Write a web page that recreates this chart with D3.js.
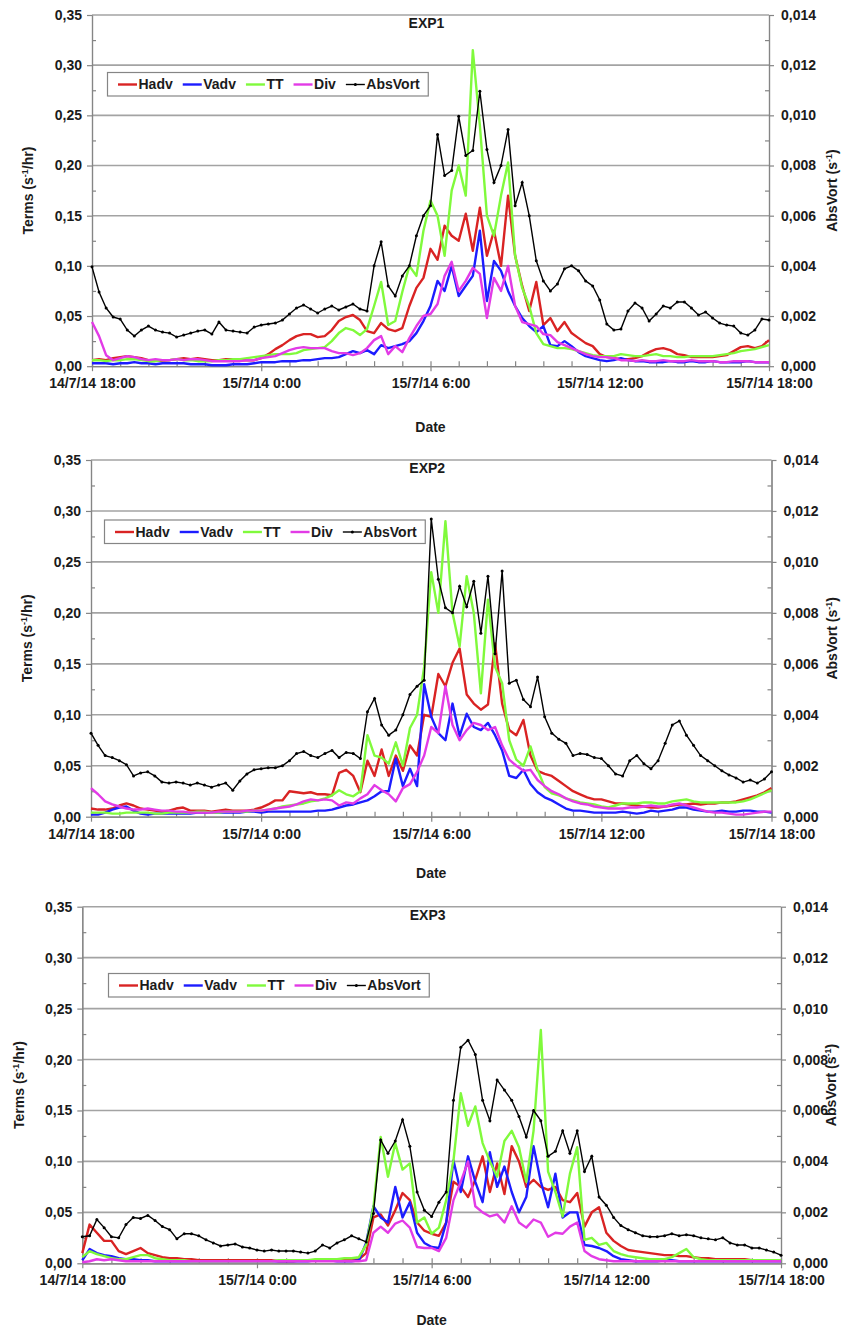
<!DOCTYPE html>
<html>
<head>
<meta charset="utf-8">
<script src="https://cdn.jsdelivr.net/npm/d3@7"></script>
<style>
body { margin: 0; background: #fff; }
svg text { font-family: "Liberation Sans", Arial, sans-serif; font-weight: bold; fill: #1b1b1b; }
</style>
</head>
<body>
<script>
var width = 841, height = 1327;

// time axis: 15-minute samples from 14/7/14 18:00 to 15/7/14 18:00
var startTime = new Date(2014, 6, 14, 18, 0);
var endTime = new Date(2014, 6, 15, 18, 0);
var stepMinutes = 15;
var timeLabels = ["14/7/14 18:00", "15/7/14 0:00", "15/7/14 6:00", "15/7/14 12:00", "15/7/14 18:00"];
var leftTicks = [0, 0.05, 0.10, 0.15, 0.20, 0.25, 0.30, 0.35];
var rightTicks = [0, 0.002, 0.004, 0.006, 0.008, 0.010, 0.012, 0.014];
var seriesNames = ["Hadv", "Vadv", "TT", "Div", "AbsVort"];
var seriesColors = ["#d92323", "#1c1cff", "#80fa3c", "#e23be6", "#000000"];

// EXP1 (s-1/hr), AbsVort in s-1
var hadv1 = [
  0.006,0.007,0.006,0.008,0.009,0.010,0.009,0.008,0.006,0.006,0.005,0.006,
  0.007,0.008,0.007,0.008,0.007,0.006,0.006,0.007,0.007,0.006,0.006,0.006,
  0.008,0.012,0.017,0.021,0.026,0.030,0.032,0.032,0.029,0.030,0.036,0.045,
  0.049,0.051,0.046,0.035,0.033,0.043,0.037,0.035,0.038,0.060,0.078,0.088,
  0.117,0.106,0.140,0.130,0.125,0.152,0.115,0.158,0.110,0.135,0.100,0.170,
  0.110,0.080,0.055,0.084,0.041,0.048,0.035,0.044,0.033,0.028,0.023,0.020,
  0.012,0.009,0.008,0.007,0.007,0.008,0.010,0.014,0.017,0.018,0.016,0.012,
  0.011,0.009,0.009,0.009,0.009,0.010,0.011,0.015,0.019,0.020,0.018,0.020,
  0.026];
var vadv1 = [
  0.003,0.003,0.003,0.002,0.003,0.003,0.004,0.003,0.003,0.002,0.003,0.003,
  0.003,0.003,0.002,0.002,0.002,0.001,0.001,0.001,0.002,0.002,0.002,0.003,
  0.004,0.004,0.004,0.005,0.005,0.005,0.006,0.006,0.007,0.008,0.008,0.009,
  0.012,0.015,0.013,0.016,0.012,0.021,0.018,0.020,0.022,0.025,0.033,0.045,
  0.060,0.085,0.075,0.100,0.070,0.080,0.090,0.135,0.065,0.105,0.095,0.075,
  0.060,0.048,0.040,0.034,0.040,0.021,0.020,0.025,0.020,0.014,0.010,0.008,
  0.006,0.005,0.006,0.008,0.006,0.005,0.005,0.004,0.004,0.004,0.005,0.004,
  0.004,0.005,0.004,0.004,0.005,0.004,0.004,0.004,0.004,0.005,0.004,0.004,
  0.004];
var tt1 = [
  0.006,0.006,0.005,0.006,0.006,0.007,0.007,0.006,0.005,0.005,0.006,0.006,
  0.007,0.006,0.006,0.005,0.005,0.005,0.006,0.006,0.007,0.007,0.008,0.009,
  0.010,0.011,0.012,0.012,0.012,0.013,0.016,0.017,0.018,0.019,0.025,0.033,
  0.038,0.036,0.031,0.037,0.060,0.084,0.041,0.045,0.074,0.100,0.090,0.135,
  0.165,0.150,0.110,0.175,0.200,0.170,0.315,0.240,0.150,0.130,0.170,0.203,
  0.110,0.078,0.060,0.033,0.022,0.020,0.018,0.018,0.017,0.015,0.013,0.011,
  0.010,0.010,0.010,0.012,0.011,0.010,0.010,0.011,0.012,0.010,0.010,0.009,
  0.009,0.010,0.010,0.010,0.010,0.011,0.012,0.013,0.015,0.016,0.017,0.019,
  0.021];
var div1 = [
  0.044,0.030,0.011,0.006,0.008,0.010,0.009,0.007,0.006,0.007,0.006,0.006,
  0.007,0.006,0.007,0.007,0.006,0.005,0.005,0.005,0.005,0.005,0.006,0.006,
  0.008,0.009,0.010,0.013,0.016,0.018,0.019,0.018,0.018,0.018,0.015,0.013,
  0.013,0.011,0.013,0.018,0.026,0.030,0.012,0.020,0.014,0.028,0.040,0.050,
  0.052,0.062,0.090,0.104,0.075,0.085,0.098,0.092,0.048,0.088,0.075,0.100,
  0.060,0.044,0.042,0.040,0.032,0.031,0.024,0.021,0.018,0.015,0.012,0.010,
  0.009,0.009,0.008,0.006,0.006,0.005,0.006,0.005,0.005,0.006,0.005,0.005,
  0.005,0.006,0.005,0.005,0.005,0.004,0.004,0.005,0.005,0.005,0.004,0.004,
  0.004];
var vort1 = [
  0.00396,0.00296,0.00232,0.00196,0.00188,0.00144,0.0012,0.00144,0.0016,0.00144,0.00136,0.00132,
  0.00116,0.00124,0.00132,0.0014,0.00144,0.00128,0.00176,0.00144,0.0014,0.00136,0.00132,0.00156,
  0.00164,0.00168,0.00172,0.00184,0.00208,0.00232,0.00244,0.00228,0.00212,0.00228,0.0024,0.00224,
  0.00236,0.00248,0.00228,0.0022,0.004,0.00496,0.0032,0.0028,0.0036,0.004,0.0052,0.006,
  0.0064,0.00924,0.0076,0.0078,0.00996,0.0084,0.0086,0.01096,0.00864,0.00732,0.008,0.00944,
  0.0064,0.00732,0.006,0.0042,0.0034,0.003,0.00328,0.00388,0.004,0.0038,0.0034,0.0032,
  0.00264,0.00168,0.00144,0.00148,0.0022,0.00252,0.00232,0.0018,0.00208,0.0024,0.00232,0.00256,
  0.00256,0.00232,0.00204,0.00216,0.00192,0.00172,0.00164,0.0016,0.00132,0.00124,0.00144,0.00188,
  0.00184];

// EXP2
var hadv2 = [
  0.008,0.007,0.007,0.008,0.011,0.013,0.011,0.008,0.007,0.006,0.005,0.006,
  0.008,0.009,0.006,0.006,0.006,0.005,0.006,0.007,0.006,0.006,0.006,0.007,
  0.009,0.012,0.016,0.016,0.025,0.024,0.023,0.024,0.022,0.022,0.021,0.043,
  0.046,0.040,0.024,0.055,0.040,0.066,0.040,0.060,0.045,0.070,0.060,0.100,
  0.098,0.140,0.128,0.151,0.165,0.120,0.111,0.105,0.110,0.170,0.111,0.085,
  0.080,0.095,0.060,0.045,0.042,0.040,0.035,0.030,0.025,0.022,0.019,0.017,
  0.017,0.015,0.013,0.013,0.012,0.011,0.010,0.009,0.009,0.010,0.011,0.012,
  0.012,0.013,0.012,0.013,0.013,0.014,0.014,0.015,0.017,0.019,0.021,0.024,
  0.028];
var vadv2 = [
  0.002,0.002,0.004,0.007,0.009,0.010,0.006,0.003,0.002,0.003,0.003,0.003,
  0.003,0.003,0.003,0.004,0.004,0.004,0.004,0.004,0.004,0.004,0.005,0.005,
  0.004,0.005,0.005,0.005,0.005,0.005,0.005,0.005,0.006,0.006,0.007,0.009,
  0.011,0.012,0.014,0.016,0.020,0.025,0.025,0.057,0.030,0.047,0.030,0.130,
  0.098,0.082,0.075,0.111,0.079,0.101,0.088,0.085,0.092,0.080,0.065,0.040,
  0.038,0.046,0.032,0.024,0.019,0.016,0.012,0.008,0.006,0.006,0.005,0.004,
  0.004,0.004,0.004,0.005,0.004,0.003,0.004,0.006,0.005,0.006,0.007,0.009,
  0.009,0.007,0.006,0.005,0.005,0.006,0.005,0.005,0.006,0.006,0.005,0.005,
  0.004];
var tt2 = [
  0.004,0.004,0.004,0.003,0.003,0.004,0.004,0.004,0.004,0.003,0.003,0.004,
  0.004,0.004,0.004,0.005,0.005,0.004,0.004,0.005,0.005,0.005,0.005,0.006,
  0.006,0.007,0.008,0.010,0.011,0.012,0.013,0.015,0.016,0.018,0.021,0.026,
  0.022,0.020,0.025,0.080,0.060,0.058,0.052,0.073,0.050,0.087,0.100,0.147,
  0.240,0.200,0.290,0.200,0.167,0.236,0.200,0.121,0.213,0.147,0.131,0.075,
  0.056,0.050,0.069,0.046,0.029,0.023,0.021,0.018,0.016,0.014,0.013,0.012,
  0.010,0.009,0.011,0.013,0.013,0.013,0.014,0.014,0.013,0.013,0.015,0.016,
  0.017,0.015,0.014,0.014,0.014,0.014,0.014,0.014,0.015,0.017,0.020,0.023,
  0.026];
var div2 = [
  0.028,0.022,0.015,0.012,0.010,0.008,0.007,0.007,0.008,0.007,0.006,0.006,
  0.005,0.005,0.004,0.004,0.004,0.004,0.005,0.005,0.005,0.005,0.006,0.006,
  0.006,0.007,0.008,0.009,0.010,0.012,0.015,0.017,0.016,0.017,0.016,0.011,
  0.014,0.013,0.018,0.022,0.031,0.026,0.022,0.015,0.028,0.032,0.044,0.060,
  0.088,0.082,0.128,0.090,0.075,0.085,0.092,0.090,0.085,0.088,0.070,0.056,
  0.050,0.045,0.046,0.036,0.030,0.025,0.022,0.018,0.015,0.013,0.012,0.010,
  0.009,0.008,0.008,0.008,0.009,0.009,0.010,0.011,0.010,0.010,0.012,0.013,
  0.011,0.009,0.007,0.005,0.004,0.004,0.003,0.002,0.002,0.003,0.004,0.005,
  0.005];
var vort2 = [
  0.00328,0.0028,0.0024,0.00232,0.0022,0.00204,0.0016,0.00172,0.00176,0.0016,0.00136,0.00132,
  0.00136,0.00132,0.00124,0.00132,0.00124,0.00116,0.00124,0.00132,0.00104,0.0014,0.00168,0.00184,
  0.00188,0.00192,0.00192,0.002,0.0022,0.00248,0.00256,0.0024,0.00232,0.00248,0.0026,0.00232,
  0.00252,0.00248,0.00228,0.00412,0.00464,0.0036,0.0032,0.0034,0.004,0.0048,0.00512,0.00536,
  0.01168,0.00932,0.0082,0.008,0.00904,0.00824,0.00924,0.0072,0.00944,0.0064,0.00964,0.00524,
  0.00536,0.0046,0.00432,0.00548,0.00392,0.00328,0.00304,0.00288,0.0024,0.00248,0.00244,0.00232,
  0.00228,0.002,0.00168,0.0016,0.0022,0.0024,0.00208,0.00188,0.0022,0.00288,0.0036,0.00376,
  0.0032,0.0028,0.0024,0.0022,0.002,0.0018,0.00164,0.00152,0.00136,0.00144,0.00132,0.00148,
  0.00176];

// EXP3
var hadv3 = [
  0.010,0.038,0.030,0.022,0.022,0.012,0.009,0.012,0.015,0.010,0.008,0.006,
  0.005,0.005,0.004,0.004,0.003,0.003,0.003,0.003,0.003,0.003,0.003,0.003,
  0.003,0.003,0.003,0.002,0.002,0.002,0.003,0.003,0.003,0.004,0.004,0.003,
  0.003,0.003,0.004,0.010,0.045,0.048,0.037,0.052,0.069,0.062,0.040,0.032,
  0.029,0.027,0.040,0.080,0.075,0.065,0.082,0.105,0.070,0.098,0.068,0.115,
  0.100,0.075,0.082,0.075,0.072,0.075,0.062,0.060,0.069,0.036,0.050,0.055,
  0.030,0.022,0.017,0.013,0.012,0.011,0.010,0.009,0.008,0.008,0.007,0.007,
  0.006,0.005,0.005,0.004,0.004,0.004,0.004,0.004,0.003,0.003,0.003,0.003,
  0.003];
var vadv3 = [
  0.003,0.014,0.010,0.008,0.007,0.005,0.004,0.004,0.003,0.003,0.002,0.002,
  0.002,0.002,0.002,0.002,0.002,0.002,0.002,0.002,0.002,0.002,0.002,0.002,
  0.002,0.002,0.002,0.002,0.002,0.002,0.002,0.002,0.003,0.003,0.003,0.002,
  0.002,0.002,0.003,0.020,0.056,0.045,0.040,0.075,0.045,0.060,0.030,0.020,
  0.016,0.015,0.040,0.101,0.070,0.105,0.080,0.060,0.109,0.075,0.095,0.070,
  0.050,0.065,0.115,0.080,0.055,0.088,0.045,0.050,0.050,0.018,0.017,0.015,
  0.012,0.007,0.004,0.003,0.002,0.002,0.002,0.002,0.003,0.003,0.002,0.002,
  0.002,0.002,0.002,0.002,0.002,0.002,0.002,0.002,0.002,0.002,0.002,0.002,
  0.002];
var tt3 = [
  0.006,0.012,0.009,0.007,0.005,0.004,0.004,0.006,0.008,0.008,0.005,0.004,
  0.003,0.003,0.003,0.002,0.002,0.002,0.002,0.002,0.002,0.002,0.002,0.002,
  0.002,0.002,0.002,0.003,0.003,0.003,0.003,0.003,0.004,0.004,0.004,0.004,
  0.005,0.005,0.006,0.018,0.055,0.124,0.085,0.118,0.092,0.098,0.040,0.045,
  0.029,0.035,0.062,0.101,0.167,0.135,0.154,0.118,0.100,0.085,0.120,0.130,
  0.114,0.080,0.130,0.229,0.090,0.070,0.046,0.088,0.114,0.023,0.025,0.018,
  0.020,0.012,0.009,0.007,0.006,0.005,0.004,0.004,0.004,0.006,0.010,0.014,
  0.006,0.004,0.003,0.003,0.003,0.003,0.003,0.003,0.003,0.003,0.003,0.003,
  0.003];
var div3 = [
  0.001,0.002,0.004,0.003,0.004,0.003,0.002,0.002,0.002,0.002,0.002,0.002,
  0.002,0.002,0.002,0.002,0.002,0.002,0.002,0.002,0.002,0.002,0.002,0.002,
  0.002,0.002,0.002,0.002,0.002,0.002,0.002,0.002,0.002,0.002,0.002,0.002,
  0.002,0.002,0.002,0.003,0.030,0.036,0.030,0.039,0.042,0.035,0.016,0.015,
  0.015,0.012,0.025,0.062,0.080,0.100,0.056,0.050,0.046,0.048,0.040,0.056,
  0.040,0.035,0.043,0.040,0.026,0.030,0.029,0.036,0.040,0.012,0.007,0.004,
  0.003,0.002,0.002,0.002,0.002,0.002,0.002,0.002,0.002,0.002,0.002,0.002,
  0.002,0.002,0.002,0.002,0.002,0.002,0.002,0.002,0.002,0.002,0.002,0.002,
  0.002];
var vort3 = [
  0.00104,0.00108,0.00172,0.0014,0.00104,0.001,0.00152,0.0018,0.00176,0.00188,0.00168,0.00144,
  0.00132,0.00096,0.00116,0.00116,0.00108,0.00092,0.0008,0.00068,0.00072,0.00076,0.00064,0.0006,
  0.00052,0.00048,0.00052,0.00048,0.00048,0.00048,0.00044,0.0004,0.00048,0.00072,0.0006,0.0008,
  0.00092,0.00108,0.00096,0.00084,0.00196,0.00484,0.00432,0.0048,0.00564,0.0046,0.0028,0.00208,
  0.00184,0.0024,0.0028,0.0064,0.00848,0.00876,0.0082,0.0064,0.0056,0.0072,0.0068,0.0064,
  0.00576,0.00496,0.006,0.0056,0.0042,0.0044,0.0052,0.00432,0.0052,0.0036,0.0042,0.0026,
  0.00228,0.0018,0.00148,0.00132,0.0012,0.00108,0.00104,0.00104,0.00108,0.00116,0.00108,0.00112,
  0.00108,0.001,0.00096,0.00092,0.001,0.0008,0.00072,0.00072,0.0006,0.0006,0.00052,0.00044,
  0.00032];

// panel frames
var panels = [
  {title: "EXP1", series: [hadv1, vadv1, tt1, div1, vort1], left: 92, right: 769, top: 15, bottom: 366.2,
   legendX: 107.5, legendY: 72.5, leftTitleX: 28, rightTitleX: 832, dateY: 427},
  {title: "EXP2", series: [hadv2, vadv2, tt2, div2, vort2], left: 91, right: 771.5, top: 460, bottom: 816.7,
   legendX: 104.5, legendY: 520, leftTitleX: 27, rightTitleX: 832, dateY: 873},
  {title: "EXP3", series: [hadv3, vadv3, tt3, div3, vort3], left: 82.3, right: 781, top: 906.7, bottom: 1263.3,
   legendX: 108.5, legendY: 973.5, leftTitleX: 19, rightTitleX: 831, dateY: 1320}
];

var locale = d3.formatLocale({decimal: ",", thousands: ".", grouping: [3], currency: ["", ""]});
var fmtLeft = locale.format(".2f");
var fmtRight = locale.format(".3f");

var svg = d3.select("body").append("svg")
    .attr("width", width)
    .attr("height", height);

var axisColor = "#858585";
var gridColor = "#a3a3a3";

function styleAxis(sel) {
    sel.select(".domain").attr("stroke", axisColor).attr("stroke-width", 1.2);
    sel.selectAll(".tick line").attr("stroke", axisColor).attr("stroke-width", 1.2);
    sel.selectAll("text").attr("font-size", 14).attr("fill", "#1b1b1b");
}

function drawPanel(p) {
    var g = svg.append("g");
    var times = p.series[0].map(function(d, i) { return d3.timeMinute.offset(startTime, i * stepMinutes); });

    var x = d3.scaleTime().domain([startTime, endTime]).range([p.left, p.right]);
    var y = d3.scaleLinear().domain([0, 0.35]).range([p.bottom, p.top]);
    var y2 = d3.scaleLinear().domain([0, 0.014]).range([p.bottom, p.top]);

    // horizontal grid
    g.selectAll(".grid").data(leftTicks.slice(1)).enter().append("line")
        .attr("x1", p.left).attr("x2", p.right)
        .attr("y1", function(d) { return y(d); })
        .attr("y2", function(d) { return y(d); })
        .attr("stroke", gridColor).attr("stroke-width", 1.6);

    // left axis, major outside, minor inside
    var minorLeft = leftTicks.slice(1).map(function(d) { return d - 0.025; });
    g.append("g").attr("transform", "translate(" + p.left + ",0)")
        .call(d3.axisLeft(y).tickValues(leftTicks).tickSize(5).tickSizeOuter(0).tickPadding(5).tickFormat(fmtLeft))
        .call(styleAxis);
    g.append("g").attr("transform", "translate(" + p.left + ",0)")
        .call(d3.axisLeft(y).tickValues(minorLeft).tickSize(-4).tickSizeOuter(0).tickFormat(""))
        .call(styleAxis);

    // right axis
    var minorRight = rightTicks.slice(1).map(function(d) { return d - 0.001; });
    g.append("g").attr("transform", "translate(" + p.right + ",0)")
        .call(d3.axisRight(y2).tickValues(rightTicks).tickSize(5).tickSizeOuter(0).tickPadding(7).tickFormat(fmtRight))
        .call(styleAxis);
    g.append("g").attr("transform", "translate(" + p.right + ",0)")
        .call(d3.axisRight(y2).tickValues(minorRight).tickSize(-4).tickSizeOuter(0).tickFormat(""))
        .call(styleAxis);

    // bottom axis: labelled every 6 h, small ticks every hour
    var majorTimes = timeLabels.map(function(d, i) { return d3.timeHour.offset(startTime, 6 * i); });
    var hourTimes = d3.timeHour.range(startTime, d3.timeMinute.offset(endTime, 1));
    g.append("g").attr("transform", "translate(0," + p.bottom + ")")
        .call(d3.axisBottom(x).tickValues(hourTimes).tickSize(-5).tickSizeOuter(0).tickFormat(""))
        .call(styleAxis);
    g.append("g").attr("transform", "translate(0," + p.bottom + ")")
        .call(d3.axisBottom(x).tickValues(majorTimes).tickSize(5).tickSizeOuter(0).tickPadding(7)
            .tickFormat(function(d, i) { return timeLabels[i]; }))
        .call(styleAxis);

    // series
    var line = d3.line()
        .x(function(d, i) { return x(times[i]); })
        .y(function(d) { return y(d); });
    var line2 = d3.line()
        .x(function(d, i) { return x(times[i]); })
        .y(function(d) { return y2(d); });

    for (var s = 0; s < 4; s++) {
        g.append("path").datum(p.series[s])
            .attr("d", line)
            .attr("fill", "none")
            .attr("stroke", seriesColors[s])
            .attr("stroke-width", 2.4)
            .attr("stroke-linejoin", "round");
    }
    g.append("path").datum(p.series[4])
        .attr("d", line2)
        .attr("fill", "none")
        .attr("stroke", "#000")
        .attr("stroke-width", 1.4);
    g.selectAll(".mark").data(p.series[4]).enter().append("circle")
        .attr("cx", function(d, i) { return x(times[i]); })
        .attr("cy", function(d) { return y2(d); })
        .attr("r", 1.5)
        .attr("fill", "#000");

    // title
    g.append("text")
        .attr("x", (p.left + p.right) / 2 - 4)
        .attr("y", p.top + 8)
        .attr("dy", "0.35em")
        .attr("text-anchor", "middle")
        .attr("font-size", 14)
        .text(p.title);

    // axis titles
    var lt = g.append("text")
        .attr("transform", "translate(" + p.leftTitleX + "," + (p.top + p.bottom) / 2 + ") rotate(-90)")
        .attr("text-anchor", "middle")
        .attr("dy", "0.35em")
        .attr("font-size", 14);
    lt.append("tspan").text("Terms (s");
    lt.append("tspan").attr("dy", -5).attr("font-size", 9).text("-1");
    lt.append("tspan").attr("dy", 5).text("/hr)");

    var rt = g.append("text")
        .attr("transform", "translate(" + p.rightTitleX + "," + (p.top + p.bottom) / 2 + ") rotate(-90)")
        .attr("text-anchor", "middle")
        .attr("dy", "0.35em")
        .attr("font-size", 14);
    rt.append("tspan").text("AbsVort (s");
    rt.append("tspan").attr("dy", -5).attr("font-size", 9).text("-1");
    rt.append("tspan").attr("dy", 5).text(")");

    g.append("text")
        .attr("x", (p.left + p.right) / 2)
        .attr("y", p.dateY)
        .attr("dy", "0.35em")
        .attr("text-anchor", "middle")
        .attr("font-size", 14)
        .text("Date");

    // legend
    var lg = g.append("g");
    var box = lg.append("rect")
        .attr("x", p.legendX).attr("y", p.legendY)
        .attr("height", 23.5)
        .attr("fill", "#fff")
        .attr("stroke", axisColor)
        .attr("stroke-width", 1.2);
    var cx = p.legendX + 10.5, cy = p.legendY + 12;
    seriesNames.forEach(function(name, i) {
        lg.append("line")
            .attr("x1", cx).attr("x2", cx + 19)
            .attr("y1", cy).attr("y2", cy)
            .attr("stroke", seriesColors[i])
            .attr("stroke-width", i === 4 ? 1.4 : 2.4);
        if (i === 4) {
            lg.append("circle").attr("cx", cx + 9.5).attr("cy", cy).attr("r", 1.5).attr("fill", "#000");
        }
        var t = lg.append("text")
            .attr("x", cx + 20.5).attr("y", cy)
            .attr("dy", "0.35em")
            .attr("font-size", 14)
            .text(name);
        cx = cx + 20.5 + t.node().getComputedTextLength() + 10;
    });
    box.attr("width", cx - 10 + 8.5 - p.legendX);
}

panels.forEach(drawPanel);
</script>
</body>
</html>
